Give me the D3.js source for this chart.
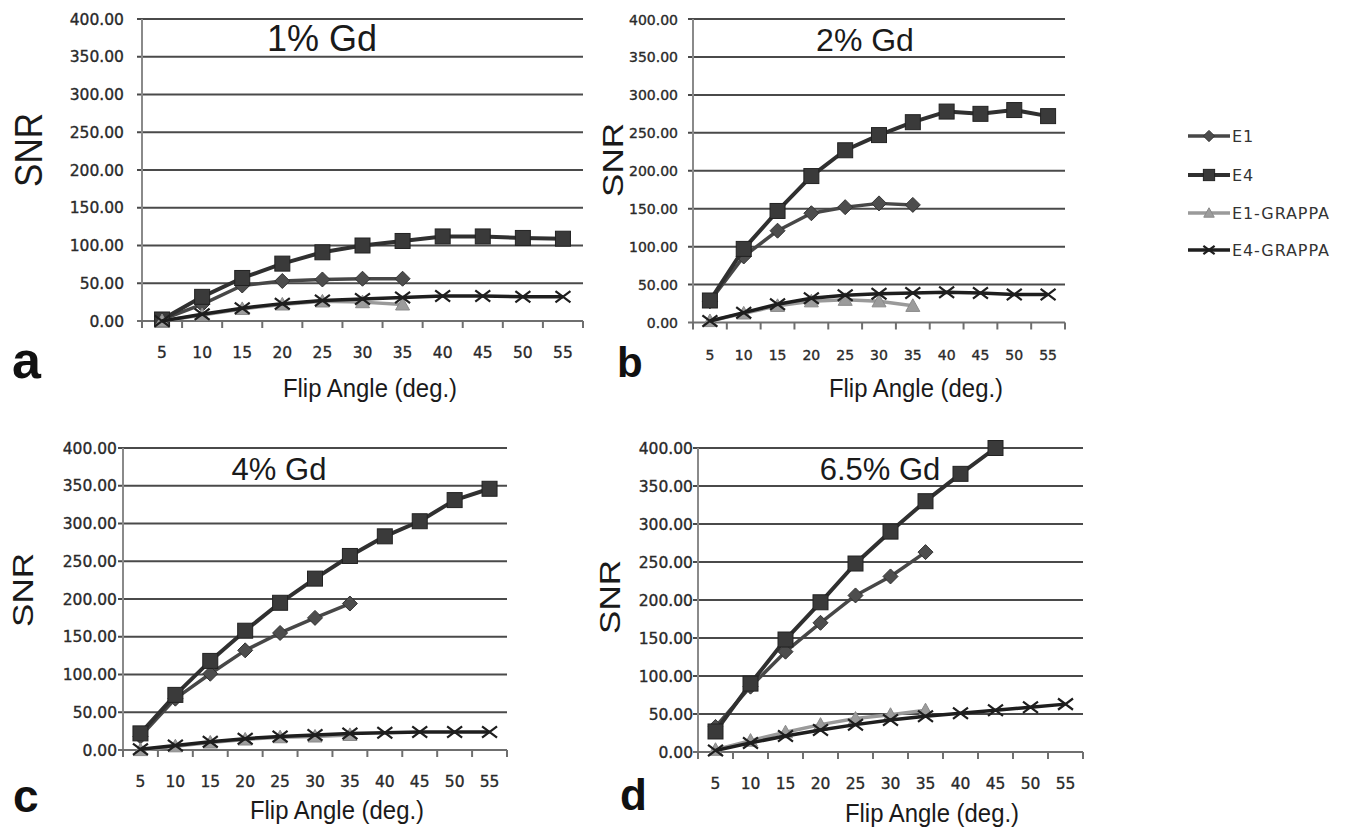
<!DOCTYPE html>
<html>
<head>
<meta charset="utf-8">
<script src="https://cdn.jsdelivr.net/npm/d3@7"></script>
<style>
  html, body { margin: 0; padding: 0; background: #fff; }
  svg { display: block; }
</style>
</head>
<body>
<svg id="chart" width="1350" height="833"></svg>
<script>
// ---------- data ----------
const flipAngles = [5, 10, 15, 20, 25, 30, 35, 40, 45, 50, 55];
const snrTicks = [0, 50, 100, 150, 200, 250, 300, 350, 400];
const seriesNames = ["E1", "E4", "E1-GRAPPA", "E4-GRAPPA"];
const panelTitles = ["1% Gd", "2% Gd", "4% Gd", "6.5% Gd"];
const panelLetters = ["a", "b", "c", "d"];
const yAxisTitle = "SNR";
const xAxisTitle = "Flip Angle (deg.)";

// 1% Gd
const gd1_E1  = [2, 22, 47, 53, 55, 56, 56];
const gd1_E4  = [2, 32, 57, 76, 91, 100, 106, 112, 112, 110, 109];
const gd1_E1G = [0, 8, 16, 22, 26, 25, 22];
const gd1_E4G = [0, 9, 17, 23, 27, 29, 31, 33, 33, 32, 32];
// 2% Gd
const gd2_E1  = [28, 87, 121, 144, 152, 157, 155];
const gd2_E4  = [29, 97, 147, 193, 227, 247, 264, 278, 275, 280, 272];
const gd2_E1G = [2, 12, 22, 28, 30, 28, 22];
const gd2_E4G = [2, 13, 24, 32, 36, 38, 39, 40, 39, 37, 37];
// 4% Gd
const gd4_E1  = [18, 68, 101, 132, 155, 175, 194];
const gd4_E4  = [22, 73, 118, 158, 195, 227, 257, 283, 303, 331, 346];
const gd4_E1G = [0, 5, 10, 14, 17, 18, 20];
const gd4_E4G = [1, 6, 11, 15, 18, 20, 22, 23, 24, 24, 24];
// 6.5% Gd
const gd65_E1  = [33, 86, 132, 170, 206, 231, 263];
const gd65_E4  = [27, 90, 148, 197, 248, 290, 330, 366, 400];
const gd65_E1G = [3, 15, 26, 36, 44, 49, 55];
const gd65_E4G = [2, 12, 21, 29, 36, 42, 47, 51, 55, 59, 63];

const panelData = [
  [gd1_E1, gd1_E4, gd1_E1G, gd1_E4G],
  [gd2_E1, gd2_E4, gd2_E1G, gd2_E4G],
  [gd4_E1, gd4_E4, gd4_E1G, gd4_E4G],
  [gd65_E1, gd65_E4, gd65_E1G, gd65_E4G]
];

// ---------- layout / style ----------
const panels = [
  {left: 142, right: 583, top: 19, bottom: 321, tickRight: 124, tickFont: 15.5,
   titleX: 322, titleY: 51, titleSize: 36, snrX: 28, snrY: 150, snrSx: 1.12,
   letterX: 12, letterY: 378, letterSize: 52, xLabX: 370, xLabY: 397},
  {left: 693, right: 1065, top: 19, bottom: 322.5, tickRight: 678, tickFont: 14,
   titleX: 865, titleY: 51, titleSize: 32, snrX: 612, snrY: 160, snrSx: 0.85,
   letterX: 617, letterY: 377, letterSize: 42, xLabX: 916, xLabY: 397},
  {left: 123, right: 507, top: 448, bottom: 750, tickRight: 117, tickFont: 15.5,
   titleX: 279, titleY: 480, titleSize: 31, snrX: 22, snrY: 590, snrSx: 0.85,
   letterX: 13, letterY: 812, letterSize: 46, xLabX: 337, xLabY: 819},
  {left: 698, right: 1083, top: 448, bottom: 752, tickRight: 693, tickFont: 15.5,
   titleX: 880, titleY: 480, titleSize: 31, snrX: 609, snrY: 597, snrSx: 0.85,
   letterX: 620, letterY: 810, letterSize: 44, xLabX: 932, xLabY: 822}
];

const seriesStyle = [
  {line: "#474747", width: 3.5, marker: "diamond",  fill: "#4d4d4d", stroke: "#333", size: 15},
  {line: "#303030", width: 4,   marker: "square",   fill: "#3a3a3a", stroke: "#222", size: 15},
  {line: "#9a9a9a", width: 3.5, marker: "triangle", fill: "#9c9c9c", stroke: "#8a8a8a", size: 14},
  {line: "#1e1e1e", width: 3.5, marker: "x",        fill: "none",    stroke: "#1e1e1e", size: 15}
];

const svg = d3.select("#chart");
const tickFontFamily = "'DejaVu Sans', Verdana, sans-serif";
const mainFont = "'Liberation Sans', Arial, sans-serif";
const fmt = d3.format(".2f");

function drawMarker(g, type, cx, cy, s, st) {
  const h = s / 2;
  if (type === "diamond") {
    g.append("path").attr("d", `M${cx},${cy-h} L${cx+h},${cy} L${cx},${cy+h} L${cx-h},${cy} Z`)
      .attr("fill", st.fill).attr("stroke", st.stroke).attr("stroke-width", 1);
  } else if (type === "square") {
    g.append("rect").attr("x", cx-h).attr("y", cy-h).attr("width", s).attr("height", s)
      .attr("fill", st.fill).attr("stroke", st.stroke).attr("stroke-width", 1);
  } else if (type === "triangle") {
    g.append("path").attr("d", `M${cx},${cy-h} L${cx+h},${cy+h*0.8} L${cx-h},${cy+h*0.8} Z`)
      .attr("fill", st.fill).attr("stroke", st.stroke).attr("stroke-width", 1);
  } else {
    g.append("path").attr("d", `M${cx-h},${cy-h*0.75} L${cx+h},${cy+h*0.75} M${cx-h},${cy+h*0.75} L${cx+h},${cy-h*0.75}`)
      .attr("fill", "none").attr("stroke", st.stroke).attr("stroke-width", 2.2);
  }
}

panels.forEach((p, pi) => {
  const g = svg.append("g");
  const x = d3.scaleBand().domain(flipAngles).range([p.left, p.right]);
  const y = d3.scaleLinear().domain([0, 400]).range([p.bottom, p.top]);
  const bw = x.bandwidth();

  // gridlines
  g.selectAll(".grid").data(snrTicks.filter(t => t > 0)).enter().append("line")
    .attr("x1", p.left - 5).attr("x2", p.right)
    .attr("y1", d => y(d)).attr("y2", d => y(d))
    .attr("stroke", "#4a4a4a").attr("stroke-width", 2);

  // y axis line
  g.append("line").attr("x1", p.left).attr("x2", p.left).attr("y1", y(400)).attr("y2", y(0))
    .attr("stroke", "#8a8a8a").attr("stroke-width", 2);
  // x axis line
  g.append("line").attr("x1", p.left - 5).attr("x2", p.right).attr("y1", y(0)).attr("y2", y(0))
    .attr("stroke", "#6f6f6f").attr("stroke-width", 2);
  // x tick marks at band edges
  const edges = flipAngles.map(c => x(c)).concat([x(flipAngles[flipAngles.length - 1]) + bw]);
  g.selectAll(".xt").data(edges).enter().append("line")
    .attr("x1", d => d).attr("x2", d => d).attr("y1", y(0)).attr("y2", y(0) + 7)
    .attr("stroke", "#6f6f6f").attr("stroke-width", 2);

  // y tick labels
  g.selectAll(".yl").data(snrTicks).enter().append("text")
    .attr("x", p.tickRight).attr("y", d => y(d) + 5.5)
    .attr("text-anchor", "end")
    .attr("font-family", tickFontFamily).attr("font-size", p.tickFont)
    .attr("fill", "#2a2a2a").attr("stroke", "#2a2a2a").attr("stroke-width", 0.35)
    .text(d => fmt(d));

  // x tick labels
  g.selectAll(".xl").data(flipAngles).enter().append("text")
    .attr("x", d => x(d) + bw / 2).attr("y", y(0) + 37)
    .attr("text-anchor", "middle")
    .attr("font-family", tickFontFamily).attr("font-size", p.tickFont)
    .attr("fill", "#2a2a2a").attr("stroke", "#2a2a2a").attr("stroke-width", 0.35)
    .text(d => d);

  // series
  panelData[pi].forEach((vals, si) => {
    const st = seriesStyle[si];
    const pts = vals.map((v, i) => [x(flipAngles[i]) + bw / 2, y(v)]);
    g.append("path").attr("d", d3.line()(pts))
      .attr("fill", "none").attr("stroke", st.line).attr("stroke-width", st.width)
      .attr("stroke-linejoin", "round");
    const mg = g.append("g");
    pts.forEach(pt => drawMarker(mg, st.marker, pt[0], pt[1], st.size, st));
  });

  // title
  g.append("text").attr("x", p.titleX).attr("y", p.titleY)
    .attr("text-anchor", "middle").attr("font-family", mainFont)
    .attr("font-size", p.titleSize).attr("fill", "#1a1a1a").text(panelTitles[pi]);

  // SNR label
  const cap = 0.716 * 35 * p.snrSx;
  g.append("text")
    .attr("transform", `translate(${p.snrX + cap / 2},${p.snrY}) scale(${p.snrSx},1) rotate(-90)`)
    .attr("text-anchor", "middle").attr("font-family", mainFont)
    .attr("font-size", 35).attr("fill", "#1a1a1a").text(yAxisTitle);

  // x axis title
  g.append("text")
    .attr("transform", `translate(${p.xLabX},${p.xLabY}) scale(0.92,1)`)
    .attr("text-anchor", "middle").attr("font-family", mainFont)
    .attr("font-size", 26).attr("fill", "#1a1a1a").text(xAxisTitle);

  // panel letter
  g.append("text").attr("x", p.letterX).attr("y", p.letterY)
    .attr("font-family", mainFont).attr("font-weight", "bold")
    .attr("font-size", p.letterSize).attr("fill", "#111").text(panelLetters[pi]);
});

// legend
const legendY = [136, 175, 213, 250];
const lg = svg.append("g");
seriesNames.forEach((name, i) => {
  const st = seriesStyle[i];
  lg.append("line").attr("x1", 1188).attr("x2", 1230).attr("y1", legendY[i]).attr("y2", legendY[i])
    .attr("stroke", st.line).attr("stroke-width", st.width);
  drawMarker(lg, st.marker, 1209, legendY[i], st.size * 0.75, st);
  lg.append("text").attr("x", 1232).attr("y", legendY[i] + 6)
    .attr("font-family", tickFontFamily).attr("font-size", 16)
    .attr("letter-spacing", 0.9)
    .attr("fill", "#333").text(name);
});
</script>
</body>
</html>
